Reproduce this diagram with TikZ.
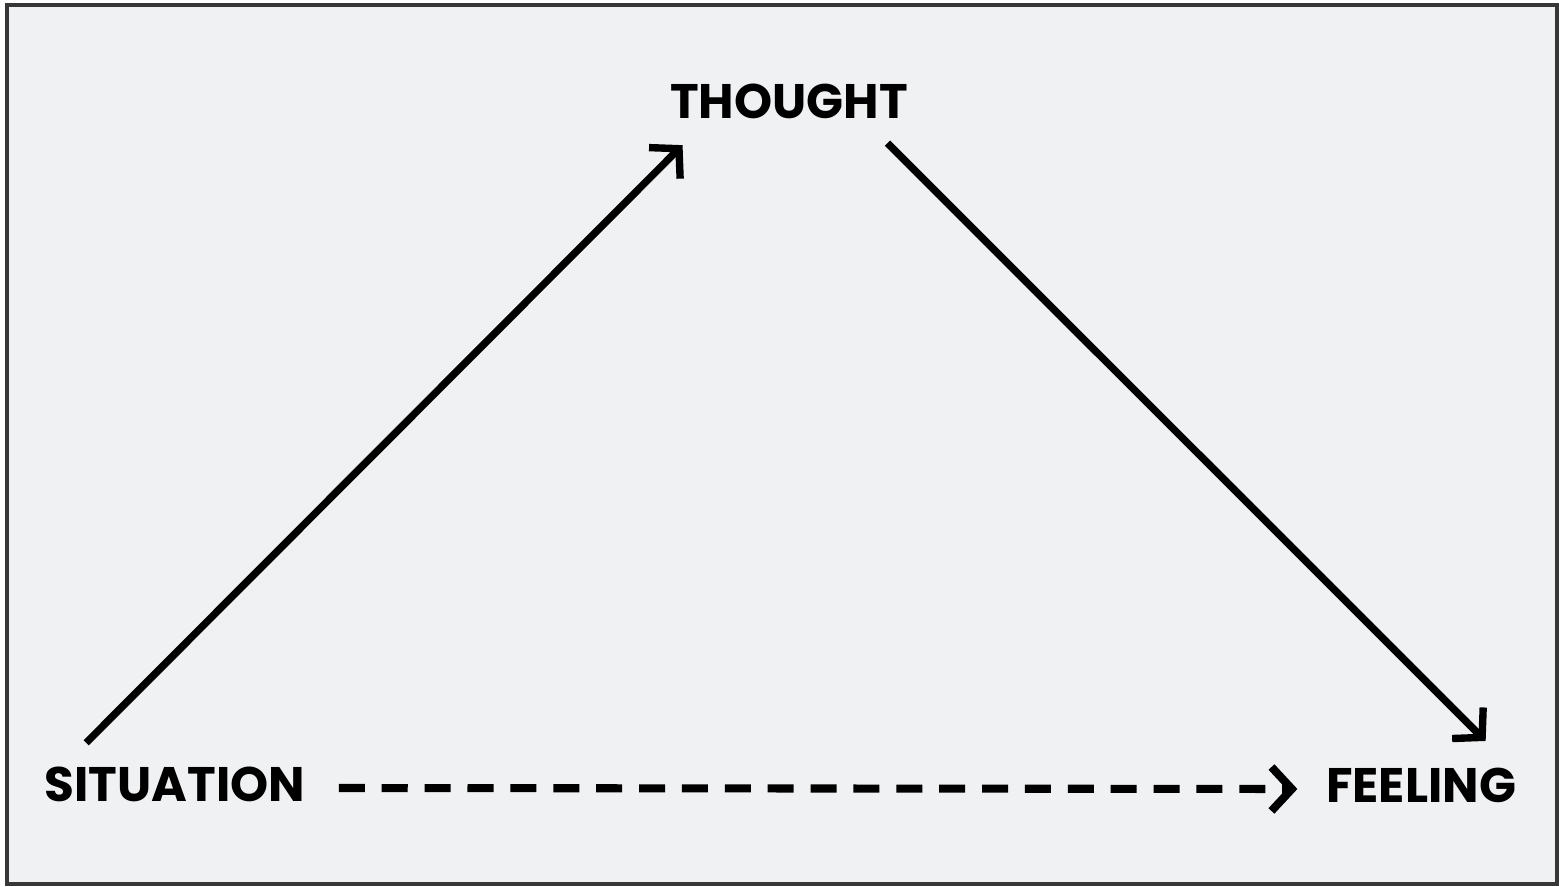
\documentclass[tikz,border=0pt]{standalone}
\usepackage{fontspec}
\setmainfont{Poppins}
\usetikzlibrary{arrows.meta,positioning}
\definecolor{paper}{RGB}{239,241,243}
\definecolor{framegray}{RGB}{55,55,55}

\begin{document}
\begin{tikzpicture}[
    word/.style={font=\bfseries\fontsize{13.8}{16}\selectfont, inner sep=0pt},
    link/.style={line width=2.1pt, -{Straight Barb[length=5.8pt,width=12.5pt]}},
  ]
    % Background and frame
    \useasboundingbox (0,0) rectangle (15.59,8.86);
    \draw[framegray, fill=paper, line width=0.9pt] (0.07,0.02) rectangle (15.57,8.81);

    % Labels
    \node[word] (thought) at (7.89,7.85) {THOUGHT};
    \node[word] (situation) at (1.75,1.02) {SITUATION};
    \node[word] (feeling) at (14.21,1.01) {FEELING};

    % Arrows round the triangle
    \draw[link] ([shift={(0.42,0.23)}]situation.north west) -- ([shift={(0.13,-0.26)}]thought.south west);
    \draw[link] ([shift={(-0.21,-0.24)}]thought.south east) -- ([shift={(-0.31,0.26)}]feeling.north east);
    \draw[link, line width=2.3pt, dash pattern=on 7.4pt off 4.8pt] ([shift={(0.33,-0.04)}]situation.east) -- ([shift={(-0.28,-0.04)}]feeling.west);
\end{tikzpicture}
\end{document}
